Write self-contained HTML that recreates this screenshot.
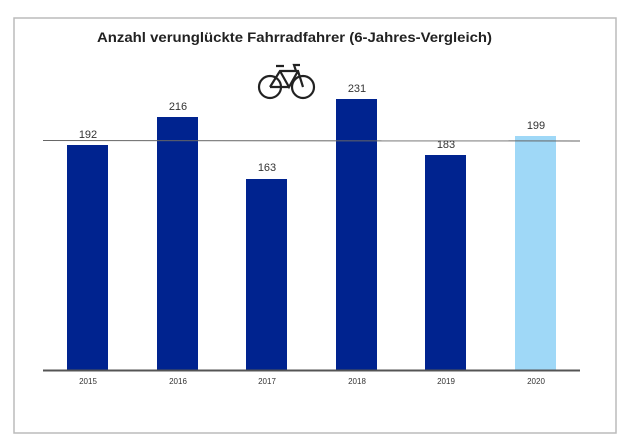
<!DOCTYPE html>
<html><head><meta charset="utf-8"><style>
body{margin:0;width:630px;height:442px;background:#fff;overflow:hidden;font-family:"Liberation Sans",Arial,sans-serif}
</style></head><body>
<svg width="630" height="442" xmlns="http://www.w3.org/2000/svg" font-family="Liberation Sans, Arial, sans-serif">
<rect x="14" y="18" width="602" height="415" fill="#fff" stroke="#bbb" stroke-width="1.5"/>
<text x="97" y="42" textLength="395" lengthAdjust="spacingAndGlyphs" font-size="13.5" font-weight="bold" fill="#222">Anzahl verunglückte Fahrradfahrer (6-Jahres-Vergleich)</text>
<g fill="none" stroke="#222" stroke-width="2.2">
<circle cx="270" cy="87" r="11"/><circle cx="303" cy="87" r="11"/>
<path d="M270 87 L280 71 L298 71 L303 87 M280 71 L289 87 L298 71 M289 87 L270 87 M276 66 L284 66 M296 71 L294 65 L300 65"/>
</g>
<g fill="#00238f">
<rect x="67" y="145" width="41" height="225"/>
<rect x="157" y="117" width="41" height="253"/>
<rect x="246" y="179" width="41" height="191"/>
<rect x="336" y="99" width="41" height="271"/>
<rect x="425" y="155" width="41" height="215"/>
</g>
<rect x="515" y="136" width="41" height="234" fill="#9fd8f7"/>
<line x1="43" y1="140.5" x2="580" y2="141" stroke="#666" stroke-width="1"/>
<line x1="43" y1="370.5" x2="580" y2="370.5" stroke="#555" stroke-width="2"/>
<g font-size="11" text-anchor="middle" fill="#333">
<text x="88" y="138">192</text><text x="178" y="110">216</text><text x="267" y="171">163</text>
<text x="357" y="92">231</text><text x="446" y="148">183</text><text x="536" y="129">199</text>
</g>
<g font-size="8" text-anchor="middle" fill="#333">
<text x="88" y="384">2015</text><text x="178" y="384">2016</text><text x="267" y="384">2017</text>
<text x="357" y="384">2018</text><text x="446" y="384">2019</text><text x="536" y="384">2020</text>
</g>
</svg>
</body></html>
